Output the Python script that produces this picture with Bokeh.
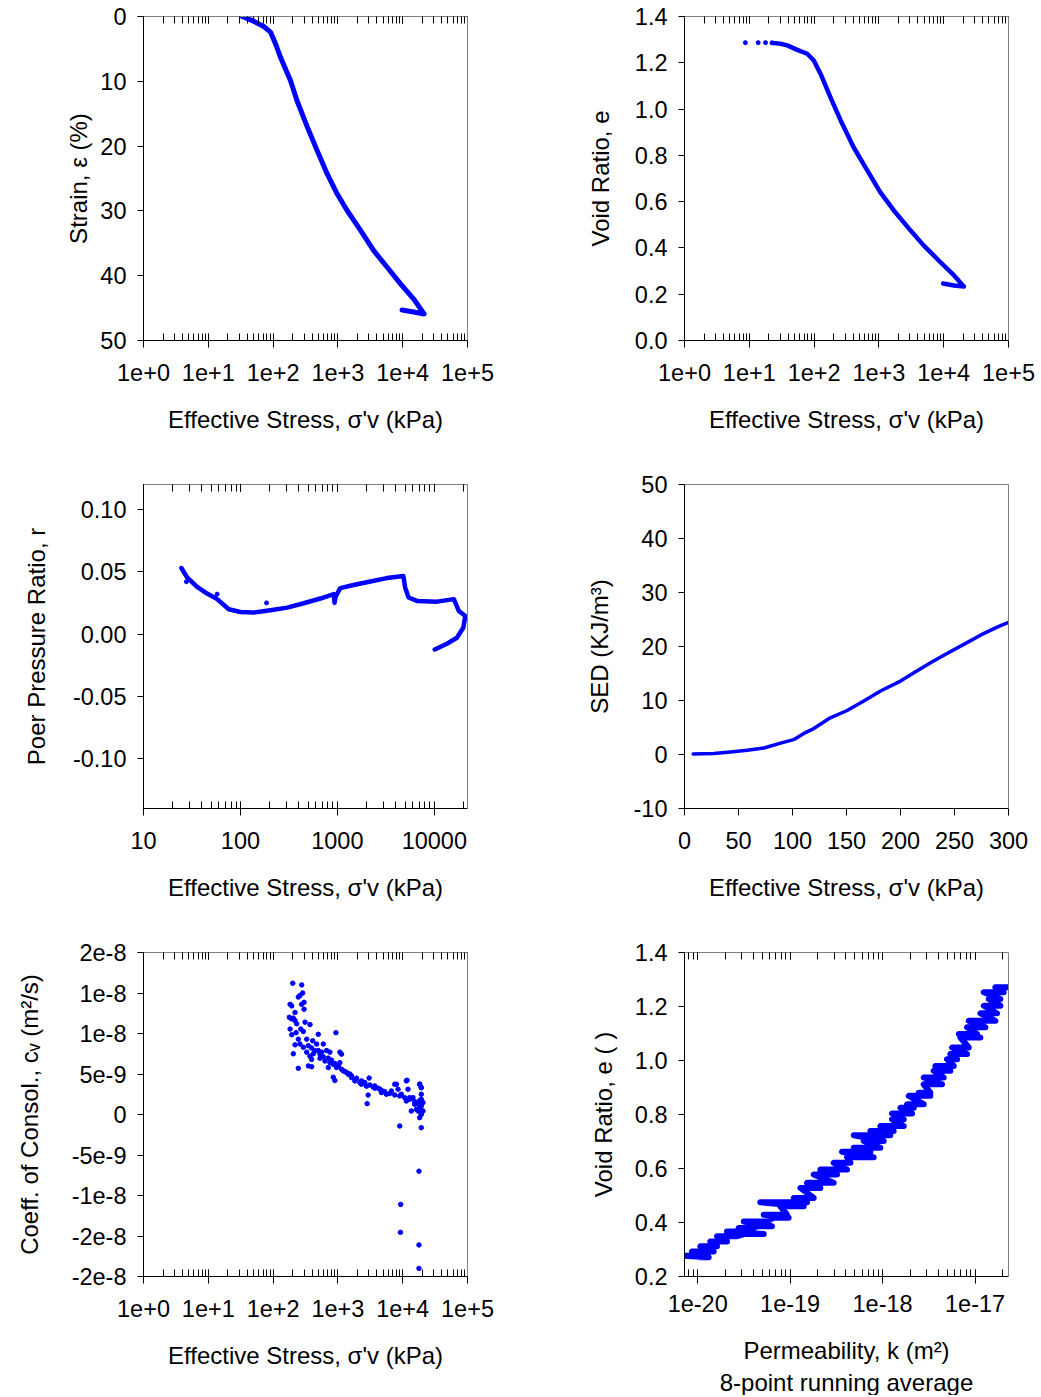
from bokeh.plotting import figure
from bokeh.models import (Range1d, LinearAxis, LogAxis, LogTicker, FixedTicker,
                          CustomJSTickFormatter, NumeralTickFormatter, Title)
from bokeh.layouts import column, row
from bokeh.embed import file_html
from bokeh.resources import INLINE

# ---------------- data ----------------
# Panel 1: strain vs effective stress
strain_stress = [33.3, 50.1, 71.9, 91.2, 108.9, 130, 186, 234, 339, 479, 684, 977, 1380,
                 2239, 3548, 5754, 9333, 14791, 21380, 14790, 9772]
strain_pct = [0, 0.72, 1.54, 2.4, 4.2, 6.3, 9.9, 13.0, 17.1, 20.7, 24.3, 27.4, 29.9,
              33.0, 36.1, 38.7, 41.3, 43.6, 45.9, 45.6, 45.3]

# Panel 2: void ratio vs effective stress
void_stress = [8.7, 13.7, 17.8, 22.5, 30.2, 38.5, 55, 78.3, 99, 126, 179, 257, 407, 661,
               1047, 1698, 3090, 4898, 8913, 14450, 20420, 14450, 9772]
void_e = [1.287, 1.287, 1.287, 1.286, 1.282, 1.275, 1.256, 1.239, 1.210, 1.152, 1.051,
          0.951, 0.835, 0.735, 0.641, 0.562, 0.475, 0.411, 0.338, 0.281, 0.233, 0.238, 0.246]

# Panel 3: pore pressure ratio vs effective stress
r_stress = [24.6, 28.2, 35.7, 45.3, 57.5, 75.8, 100, 137, 204, 303, 449, 668, 917, 935,
            960, 1070, 1470, 2190, 3240, 4800, 5000, 5430, 6620, 10700, 15900, 17900,
            20900, 19900, 17100, 13500, 10100]
r_ratio = [0.053, 0.0454, 0.0379, 0.0325, 0.028, 0.0199, 0.0177, 0.0172, 0.0191, 0.0212,
           0.0247, 0.0285, 0.032, 0.025, 0.030, 0.0368, 0.0393, 0.0422, 0.0449, 0.0465,
           0.0374, 0.0293, 0.0266, 0.026, 0.028, 0.0185, 0.0145, 0.0051, -0.003, -0.0078,
           -0.0124]
r_noise_stress = [27.7, 57.5, 186]
r_noise_ratio = [0.042, 0.032, 0.025]

# Panel 4: strain energy density vs effective stress
sed_stress = [8, 27, 42.6, 58, 73.5, 89, 101, 110.5, 119.7, 135, 150.6, 166, 181.5, 200,
              212, 227.8, 243, 258.6, 274, 289.5, 299.4]
sed_kj = [0.1, 0.17, 0.47, 0.78, 1.2, 2.1, 2.75, 3.9, 4.8, 6.8, 8.15, 9.9, 11.75, 13.6,
          15.1, 17, 18.7, 20.4, 22.1, 23.6, 24.4]

# Panel 5: coefficient of consolidation vs effective stress
cv_stress = [201, 276, 286, 260, 245, 300, 276, 183, 194, 218, 300, 178, 194, 218, 205,
             183, 231, 311, 371, 267, 293, 194, 226, 498, 932, 245, 330, 408, 218, 260,
             293, 350, 393, 470, 595, 205, 330, 371, 417, 498, 561, 669, 753, 1073, 1138,
             393, 529, 631, 753, 848, 245, 350, 393, 710, 954, 1073, 1207, 1359, 1529, 848,
             899, 1622, 1826, 2179, 2311, 3033, 2760, 3495, 3707, 4426, 2928, 2826, 4695,
             5605, 6691, 7530, 8473, 9536, 11380, 12070, 12810, 14420, 11380, 15300, 16230,
             18260, 19370, 18260, 19370, 20550, 18260, 13580,
             8000, 11670, 18260, 19360, 8990, 19360, 17820, 9310, 9230, 17820, 17820,
             19360, 18260, 18800, 19360, 17820,
             443, 529, 595, 710, 799, 899, 1012, 1138, 1281, 1442, 1622, 1937, 2311, 2601,
             3106, 3707, 4172, 4695, 5283, 6307, 7530, 8989, 10730, 12810, 15300, 17210,
             19370, 20550, 17210, 19370]
cv_e9 = [16.2, 16.0, 15.0, 14.7, 14.5, 13.85, 13.6, 13.6, 13.4, 12.6, 13.0, 12.0, 11.8,
         11.6, 11.9, 10.55, 11.2, 11.4, 11.1, 10.55, 10.25, 9.85, 10.1, 9.9, 10.1, 9.3, 9.3,
         9.1, 8.6, 8.7, 8.3, 8.5, 8.2, 8.7, 8.7, 7.5, 7.7, 7.2, 7.5, 7.9, 7.7, 7.9, 7.7,
         7.7, 7.45, 6.8, 6.95, 6.6, 6.4, 6.2, 5.7, 6.0, 5.9, 5.8, 5.8, 6.4, 5.4, 5.2, 5.0,
         4.6, 4.2, 4.56, 4.15, 3.95, 3.74, 4.5, 3.5, 3.4, 3.25, 3.12, 2.4, 1.34, 2.7, 2.5,
         2.9, 3.74, 3.12, 2.5, 4.15, 3.12, 2.08, 2.08, 1.67, 1.26, 0.64, 0.85, 1.88, 3.74,
         3.32, 0.43, -0.39, 0.43,
         3.74, 4.23, 3.74, 3.32, -1.42, -1.63, -7.0, -11.1, -14.55, -16.1, -19.0,
         2.5, 1.7, 0.9, 0.08, 1.3,
         7.86, 7.45, 7.12, 6.96, 6.71, 6.29, 6.0, 5.59, 5.30, 4.97, 4.77, 4.48, 4.15, 3.95,
         3.65, 3.53, 3.25, 2.99, 2.83, 2.58, 2.41, 2.29, 2.08, 1.88, 1.59, 1.34, 1.05,
         1.47, 0.43, 0.02]
cv_m2s = [v * 1e-9 for v in cv_e9]
cv_ticks = [-2e-8, -1.5e-8, -1e-8, -5e-9, 0, 5e-9, 1e-8, 1.5e-8, 2e-8]
cv_tick_labels = ["-2e-8", "-2e-8", "-1e-8", "-5e-9", "0", "5e-9", "1e-8", "1e-8", "2e-8"]

# Panel 6: void ratio vs permeability (8-point running average), zig-zag strokes
perm_e = [0.271, 0.277, 0.293, 0.312, 0.330, 0.349, 0.357, 0.367, 0.380, 0.386, 0.404,
          0.418, 0.429, 0.460, 0.475, 0.491, 0.528, 0.547, 0.578, 0.596, 0.621, 0.642,
          0.662, 0.677, 0.702, 0.723, 0.739, 0.757, 0.782, 0.804, 0.825, 0.838, 0.869,
          0.881, 0.912, 0.937, 0.962, 0.980, 1.005, 1.024, 1.048, 1.085, 1.098, 1.123,
          1.147, 1.175, 1.203, 1.228, 1.253, 1.271]
perm_left_log10 = [-19.989, -20.151, -20.061, -19.971, -19.863, -19.791, -19.502, -19.683,
                   -19.556, -19.358, -19.502, -19.178, -19.286, -19.106, -19.322, -18.961,
                   -18.889, -18.817, -18.745, -18.673, -18.529, -18.384, -18.439, -18.312,
                   -18.204, -18.312, -18.132, -18.024, -17.898, -17.898, -17.807, -17.735,
                   -17.717, -17.609, -17.555, -17.555, -17.447, -17.429, -17.303, -17.267,
                   -17.248, -17.158, -17.176, -17.086, -17.068, -16.942, -16.906, -16.852,
                   -16.906, -16.780]
perm_right_log10 = [-19.881, -20.007, -19.827, -19.791, -19.683, -19.574, -19.286, -19.502,
                    -19.394, -19.196, -19.250, -19.016, -19.034, -18.853, -18.817, -18.745,
                    -18.673, -18.529, -18.493, -18.384, -18.348, -18.096, -18.132, -18.024,
                    -17.988, -17.916, -17.880, -17.771, -17.771, -17.681, -17.663, -17.555,
                    -17.483, -17.483, -17.357, -17.339, -17.267, -17.230, -17.194, -17.086,
                    -17.068, -16.942, -16.978, -16.888, -16.780, -16.762, -16.726, -16.726,
                    -16.690, -16.617]

stress_label = "Effective Stress, \u03c3'v (kPa)"

# ---------------- styling helpers ----------------
FONT = "Liberation Sans"
FS = "23.5px"
LFS = "24px"
BLUE = "#0000FF"
GRAY = "#808080"
EXP_FMT = "return tick.toExponential(0);"


def make_fig(x_type, x_range, y_range, L, R, T, B):
    p = figure(x_axis_type=x_type, x_range=x_range, y_range=y_range,
               frame_width=324, frame_height=324,
               min_border_left=L, min_border_right=R,
               min_border_top=T, min_border_bottom=B,
               toolbar_location=None, output_backend="svg")
    p.outline_line_color = None
    p.grid.visible = False
    p.background_fill_color = "white"
    p.border_fill_color = "white"
    return p


def style(ax):
    ax.major_label_text_font = FONT
    ax.major_label_text_font_size = FS
    ax.major_label_text_color = "black"
    ax.axis_label_text_font = FONT
    ax.axis_label_text_font_size = LFS
    ax.axis_label_text_font_style = "normal"
    ax.axis_label_text_color = "black"
    ax.axis_line_color = "black"
    ax.major_tick_line_color = "black"
    ax.minor_tick_line_color = "black"


def setup_x(p, log, label, fmt_code=None, ticks=None, label_standoff=22, tick_standoff=16):
    ax = p.xaxis[0]
    style(ax)
    ax.axis_label = label
    ax.axis_label_standoff = label_standoff
    ax.major_label_standoff = tick_standoff
    if log:
        ax.ticker = LogTicker(num_minor_ticks=10)
        ax.formatter = CustomJSTickFormatter(code=fmt_code)
        ax.major_tick_in = 0
        ax.major_tick_out = 7
        ax.minor_tick_in = 7
        ax.minor_tick_out = 0
    else:
        ax.ticker = FixedTicker(ticks=ticks)
        ax.major_tick_in = 0
        ax.major_tick_out = 7
        ax.minor_tick_in = 0
        ax.minor_tick_out = 0
    # top frame line (gray) with inward ticks for log panels
    if log:
        top = LogAxis(ticker=LogTicker(num_minor_ticks=10),
                      formatter=CustomJSTickFormatter(code="return '';"))
        top.major_tick_in = 7
        top.minor_tick_in = 7
    else:
        top = LinearAxis(ticker=FixedTicker(ticks=[]),
                         formatter=CustomJSTickFormatter(code="return '';"))
        top.major_tick_in = 0
        top.minor_tick_in = 0
    top.major_tick_out = 0
    top.minor_tick_out = 0
    top.axis_line_color = GRAY
    top.major_tick_line_color = "black"
    top.minor_tick_line_color = "black"
    top.major_label_text_font_size = "0px"
    top.major_label_standoff = 0
    p.add_layout(top, "above")


def setup_y(p, label, ticks, formatter, label_standoff):
    ax = p.yaxis[0]
    style(ax)
    ax.axis_label = label
    ax.axis_label_standoff = label_standoff
    ax.ticker = FixedTicker(ticks=ticks)
    ax.formatter = formatter
    ax.major_tick_in = 0
    ax.major_tick_out = 6
    ax.minor_tick_in = 0
    ax.minor_tick_out = 0
    ax.major_label_standoff = 11
    right = LinearAxis(ticker=FixedTicker(ticks=[]),
                       formatter=CustomJSTickFormatter(code="return '';"))
    right.axis_line_color = GRAY
    right.major_tick_in = 0
    right.major_tick_out = 0
    right.minor_tick_in = 0
    right.minor_tick_out = 0
    right.major_label_text_font_size = "0px"
    right.major_label_standoff = 0
    p.add_layout(right, "right")


# ---------------- layout geometry ----------------
L1, R1 = 143, 82
L2, R2 = 135, 30
T1, B1 = 16, 100
T2, B2 = 44, 100
T3, B3 = 44, 118

# ---------------- Panel 1 ----------------
p1 = make_fig("log", Range1d(1, 1e5), Range1d(50, 0), L1, R1, T1, B1)
setup_x(p1, True, stress_label, EXP_FMT)
setup_y(p1, "Strain, \u03b5 (%)", [0, 10, 20, 30, 40, 50],
        NumeralTickFormatter(format="0"), 5)
p1.line(strain_stress, strain_pct, line_color=BLUE, line_width=5,
        line_join="round", line_cap="round")

# ---------------- Panel 2 ----------------
p2 = make_fig("log", Range1d(1, 1e5), Range1d(0, 1.4), L2, R2, T1, B1)
setup_x(p2, True, stress_label, EXP_FMT)
setup_y(p2, "Void Ratio, e", [0, 0.2, 0.4, 0.6, 0.8, 1.0, 1.2, 1.4],
        NumeralTickFormatter(format="0.0"), 18)
p2.scatter(void_stress[:4], void_e[:4], size=4, color=BLUE)
p2.line(void_stress[3:], void_e[3:], line_color=BLUE, line_width=4.5,
        line_join="round", line_cap="round")

# ---------------- Panel 3 ----------------
p3 = make_fig("log", Range1d(10, 22000), Range1d(-0.14, 0.12), L1, R1, T2, B2)
setup_x(p3, True, stress_label, "return tick.toFixed(0);")
setup_y(p3, "Poer Pressure Ratio, r", [-0.1, -0.05, 0, 0.05, 0.1],
        NumeralTickFormatter(format="0.00"), 20)
p3.line(r_stress, r_ratio, line_color=BLUE, line_width=4.5,
        line_join="round", line_cap="round")
p3.scatter(r_noise_stress, r_noise_ratio, size=4, color=BLUE)

# ---------------- Panel 4 ----------------
p4 = make_fig("linear", Range1d(0, 300), Range1d(-10, 50), L2, R2, T2, B2)
setup_x(p4, False, stress_label, ticks=[0, 50, 100, 150, 200, 250, 300])
setup_y(p4, "SED (KJ/m\u00b3)", [-10, 0, 10, 20, 30, 40, 50],
        NumeralTickFormatter(format="0"), 18)
p4.line(sed_stress, sed_kj, line_color=BLUE, line_width=3.5,
        line_join="round", line_cap="round")

# ---------------- Panel 5 ----------------
p5 = make_fig("log", Range1d(1, 1e5), Range1d(-2e-8, 2e-8), L1, R1, T3, B3)
setup_x(p5, True, stress_label, EXP_FMT)
cv_fmt = CustomJSTickFormatter(args=dict(labs=cv_tick_labels),
                               code="const i = Math.round((tick + 2e-8) / 5e-9); return labs[i];")
setup_y(p5, "Coeff. of Consol., c\u1d65 (m\u00b2/s)", cv_ticks, cv_fmt, 26)
p5.scatter(cv_stress, cv_m2s, size=4.5, color=BLUE)

# ---------------- Panel 6 ----------------
p6 = make_fig("log", Range1d(7.2e-21, 2.3e-17), Range1d(0.2, 1.4), L2, R2, T3, B3)
setup_x(p6, True, "Permeability, k (m\u00b2)", EXP_FMT, label_standoff=22, tick_standoff=11)
setup_y(p6, "Void Ratio, e ( )", [0.2, 0.4, 0.6, 0.8, 1.0, 1.2, 1.4],
        NumeralTickFormatter(format="0.0"), 15)
zig_k, zig_e = [], []
for e_val, lo, hi in zip(perm_e, perm_left_log10, perm_right_log10):
    zig_k += [10 ** lo, 10 ** hi]
    zig_e += [e_val, e_val]
p6.line(zig_k, zig_e, line_color=BLUE, line_width=6, line_join="round", line_cap="round")
sub = Title(text="8-point running average", align="center", text_font=FONT,
            text_font_size=LFS, text_font_style="normal", text_color="black", standoff=0)
p6.add_layout(sub, "below")

layout = column(row(p1, p2), row(p3, p4), row(p5, p6))
open("out.html", "w").write(file_html(layout, INLINE))
